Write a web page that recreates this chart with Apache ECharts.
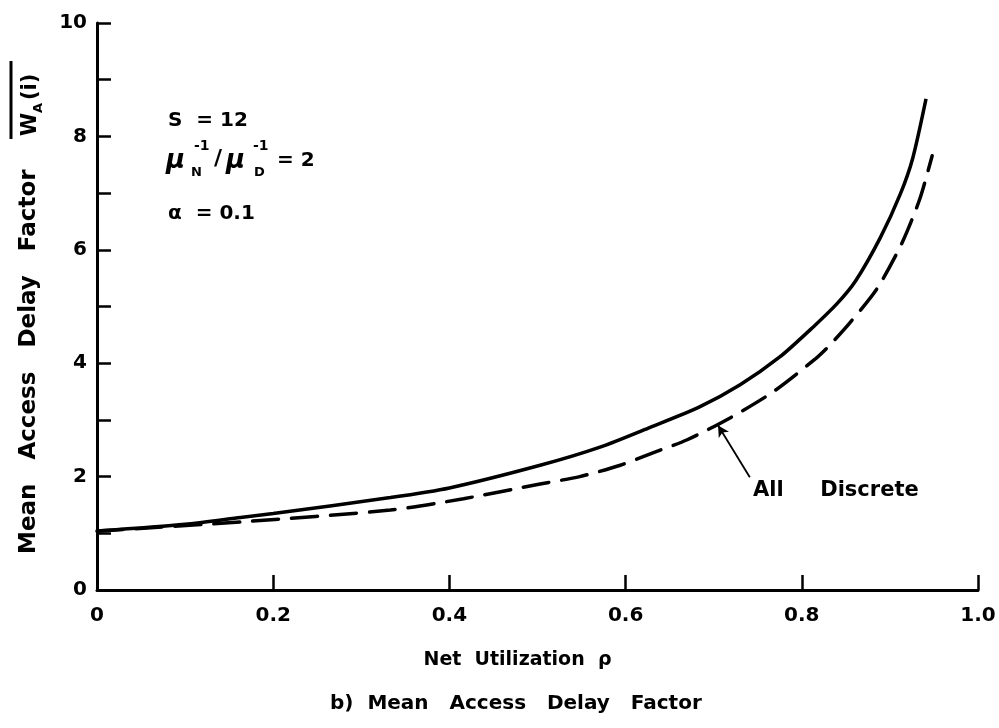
<!DOCTYPE html>
<html>
<head>
<meta charset="utf-8">
<script src="https://cdn.jsdelivr.net/npm/echarts@6/dist/echarts.min.js"></script>
<style>
html,body{margin:0;padding:0;background:#fff;}
#chart{width:999px;height:728px;}
</style>
</head>
<body>
<div id="chart"></div>
<script>
// Data
const rhoSolid = [0, 0.1, 0.163, 0.2, 0.333, 0.4, 0.503, 0.571, 0.628, 0.684, 0.730, 0.775, 0.813, 0.840, 0.861, 0.889, 0.912, 0.926, 0.941];
const wSolid   = [1.04, 1.16, 1.28, 1.35, 1.63, 1.80, 2.20, 2.52, 2.87, 3.23, 3.62, 4.11, 4.64, 5.05, 5.45, 6.21, 6.99, 7.62, 8.66];
const rhoDashed = [0, 0.163, 0.333, 0.416, 0.503, 0.548, 0.594, 0.631, 0.670, 0.718, 0.767, 0.815, 0.830, 0.855, 0.886, 0.914, 0.934, 0.948];
const wDashed   = [1.04, 1.20, 1.41, 1.61, 1.87, 2.0, 2.2, 2.42, 2.65, 3.03, 3.49, 4.07, 4.29, 4.72, 5.33, 6.13, 6.90, 7.66];
const xTicks = ['0', '0.2', '0.4', '0.6', '0.8', '1.0'];
const yTicks = ['0', '2', '4', '6', '8', '10'];
const arrowFrom = [0.741, 1.99];
const arrowTo = [0.705, 2.90];

const FONT = 'DejaVu Sans';
const ink = '#000';

const chart = echarts.init(document.getElementById('chart'));
const pair = (xs, ys) => xs.map((x, i) => [x, ys[i]]);

chart.setOption({
  backgroundColor: '#fff',
  animation: false,
  grid: { left: 97, right: 21, top: 23, bottom: 138 },
  xAxis: {
    type: 'value', min: 0, max: 1, interval: 0.2,
    axisLine: { show: true, lineStyle: { color: ink, width: 3 } },
    axisTick: { show: true, inside: true, length: 15, lineStyle: { color: ink, width: 2.5 } },
    splitLine: { show: false },
    axisLabel: {
      color: ink, fontFamily: FONT, fontSize: 20, fontWeight: 'bold', margin: 16,
      formatter: v => xTicks[Math.round(v / 0.2)]
    },
    name: 'Net  Utilization  ρ', nameLocation: 'middle', nameGap: 61,
    nameTextStyle: { color: ink, fontFamily: FONT, fontSize: 19, fontWeight: 'bold', padding: [0, 40, 0, 0] }
  },
  yAxis: {
    type: 'value', min: 0, max: 10, interval: 2,
    axisLine: { show: true, lineStyle: { color: ink, width: 3 } },
    axisTick: { show: true, inside: true, length: 14, lineStyle: { color: ink, width: 2.5 } },
    minorTick: { show: true, splitNumber: 2, length: 14, lineStyle: { color: ink, width: 2.5 } },
    splitLine: { show: false },
    axisLabel: {
      color: ink, fontFamily: FONT, fontSize: 20, fontWeight: 'bold', margin: 10,
      formatter: v => yTicks[Math.round(v / 2)]
    }
  },
  series: [
    {
      type: 'line', name: 'solid', data: pair(rhoSolid, wSolid), smooth: 0.25,
      showSymbol: false, symbol: 'none',
      lineStyle: { color: ink, width: 3.5, type: 'solid' }, z: 3
    },
    {
      type: 'line', name: 'All Discrete', data: pair(rhoDashed, wDashed), smooth: 0.25,
      showSymbol: false, symbol: 'none',
      lineStyle: { color: ink, width: 3.5, type: [26, 13], cap: 'round' }, z: 3,
      markLine: {
        silent: true, symbol: ['none', 'arrow'], symbolSize: [9, 11],
        label: { show: false },
        lineStyle: { color: ink, width: 1.8, type: 'solid' },
        data: [[{ coord: arrowFrom }, { coord: arrowTo }]]
      }
    }
  ],
  graphic: [
    { type: 'text', left: 753, top: 480, style: { text: 'All     Discrete', fill: ink, font: 'bold 21px "DejaVu Sans"' } },
    { type: 'text', left: 168, top: 111, style: { text: 'S  = 12', fill: ink, font: 'bold 20px "DejaVu Sans"' } },
    { type: 'text', left: 166, top: 148, style: { text: 'μ', fill: ink, font: 'italic bold 26px "DejaVu Sans"' } },
    { type: 'text', left: 194, top: 139, style: { text: '-1', fill: ink, font: 'bold 14px "DejaVu Sans"' } },
    { type: 'text', left: 191, top: 166, style: { text: 'N', fill: ink, font: 'bold 13px "DejaVu Sans"' } },
    { type: 'text', left: 214, top: 148, style: { text: '/', fill: ink, font: 'bold 22px "DejaVu Sans"' } },
    { type: 'text', left: 226, top: 148, style: { text: 'μ', fill: ink, font: 'italic bold 26px "DejaVu Sans"' } },
    { type: 'text', left: 253, top: 139, style: { text: '-1', fill: ink, font: 'bold 14px "DejaVu Sans"' } },
    { type: 'text', left: 254, top: 166, style: { text: 'D', fill: ink, font: 'bold 13px "DejaVu Sans"' } },
    { type: 'text', left: 277, top: 151, style: { text: '= 2', fill: ink, font: 'bold 20px "DejaVu Sans"' } },
    { type: 'text', left: 168, top: 204, style: { text: 'α  = 0.1', fill: ink, font: 'bold 20px "DejaVu Sans"' } },
    // y-axis title, rotated
    { type: 'text', x: 29, y: 554, rotation: Math.PI / 2,
      style: { text: 'Mean   Access   Delay   Factor', fill: ink, font: 'bold 23px "DejaVu Sans"', align: 'left', verticalAlign: 'middle' } },
    { type: 'text', x: 31, y: 136, rotation: Math.PI / 2,
      style: { text: 'W', fill: ink, font: 'bold 21px "DejaVu Sans"', align: 'left', verticalAlign: 'middle' } },
    { type: 'text', x: 39, y: 113, rotation: Math.PI / 2,
      style: { text: 'A', fill: ink, font: 'bold 13px "DejaVu Sans"', align: 'left', verticalAlign: 'middle' } },
    { type: 'text', x: 31, y: 100, rotation: Math.PI / 2,
      style: { text: '(i)', fill: ink, font: 'bold 21px "DejaVu Sans"', align: 'left', verticalAlign: 'middle' } },
    { type: 'line', shape: { x1: 11, y1: 139, x2: 11, y2: 61 }, style: { stroke: ink, lineWidth: 3 } },
    // caption
    { type: 'text', left: 330, top: 694, style: { text: 'b)  Mean   Access   Delay   Factor', fill: ink, font: 'bold 20px "DejaVu Sans"' } }
  ]
});
</script>
</body>
</html>
